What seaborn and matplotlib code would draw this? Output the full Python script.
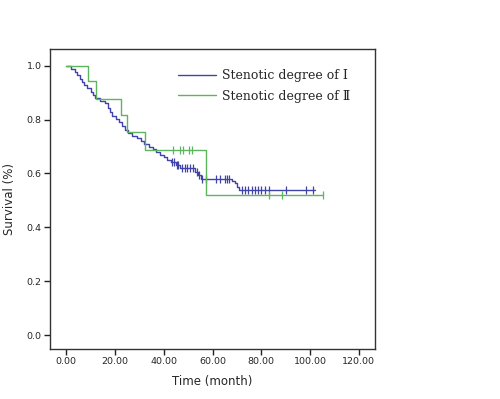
import matplotlib
matplotlib.use("Agg")
import matplotlib.pyplot as plt
import pandas as pd
import seaborn as sns

# Stenotic degree I: step times (month) and survival
grp1_time = [0, 2.0, 3.5, 4.5, 5.5, 6.5, 7.5, 8.5, 10.0, 11.0, 12.0, 14.0, 16.0, 17.0,
             18.0, 19.0, 20.5, 21.5, 23.0, 24.0, 25.5, 27.0, 29.0, 30.5, 32.0, 34.0,
             35.5, 37.0, 38.5, 40.0, 41.5, 43.0, 45.0, 46.5, 53.0, 54.2, 55.2, 67.9,
             69.3, 70.2, 71.0, 102.0]
grp1_surv = [1.0, 0.988, 0.976, 0.964, 0.952, 0.940, 0.928, 0.916, 0.904, 0.892, 0.880,
             0.870, 0.860, 0.845, 0.830, 0.815, 0.803, 0.790, 0.778, 0.762, 0.752, 0.740,
             0.730, 0.720, 0.710, 0.700, 0.690, 0.680, 0.670, 0.660, 0.650, 0.642, 0.633,
             0.621, 0.607, 0.594, 0.580, 0.572, 0.563, 0.551, 0.537, 0.537]
grp1_cens_time = [43.5, 44.2, 45.4, 46.0, 47.4, 48.8, 49.5, 50.8, 52.2, 53.5, 54.5, 55.6,
                  57.4, 61.5, 63.1, 65.2, 65.8, 66.8, 72.0, 73.4, 74.7, 76.1, 77.5, 78.8,
                  79.9, 81.6, 83.3, 90.2, 98.4, 101.1]
grp1_cens_surv = [0.642, 0.642, 0.633, 0.633, 0.621, 0.621, 0.621, 0.621, 0.621, 0.607,
                  0.594, 0.580, 0.580, 0.580, 0.580, 0.580, 0.580, 0.580, 0.537, 0.537,
                  0.537, 0.537, 0.537, 0.537, 0.537, 0.537, 0.537, 0.537, 0.537, 0.537]

# Stenotic degree II
grp2_time = [0, 9.0, 12.3, 22.4, 25.0, 32.4, 57.2, 105.2]
grp2_surv = [1.0, 0.942, 0.878, 0.818, 0.753, 0.689, 0.519, 0.519]
grp2_cens_time = [43.7, 46.7, 48.0, 50.4, 51.5, 83.3, 88.4, 105.2]
grp2_cens_surv = [0.689, 0.689, 0.689, 0.689, 0.689, 0.519, 0.519, 0.519]

labels = ["Stenotic degree of \u2160", "Stenotic degree of \u2161"]
colors = ["#4044a8", "#5db55e"]

sns.set_style("white")
plt.rcParams["font.family"] = ["DejaVu Sans"]

fig = plt.figure(figsize=(5.0, 3.99), dpi=100)
ax = fig.add_axes([0.10, 0.1253, 0.65, 0.7517])

curves = [(grp1_time, grp1_surv, grp1_cens_time, grp1_cens_surv),
          (grp2_time, grp2_surv, grp2_cens_time, grp2_cens_surv)]
for (t, s, ct, cs), lab, col in zip(curves, labels, colors):
    sns.lineplot(x=t, y=s, drawstyle="steps-post", color=col, linewidth=1.0,
                 label=lab, ax=ax, estimator=None, sort=False)
    sns.scatterplot(x=ct, y=cs, marker="|", s=28, color=col, linewidth=0.9, ax=ax)

ax.set_xlim(-6.6, 126.6)
ax.set_ylim(-0.052, 1.062)
ax.set_xticks([0, 20, 40, 60, 80, 100, 120])
ax.set_xticklabels([f"{v:.2f}" for v in [0, 20, 40, 60, 80, 100, 120]])
ax.set_yticks([0, 0.2, 0.4, 0.6, 0.8, 1.0])
ax.set_yticklabels([f"{v:.1f}" for v in [0, 0.2, 0.4, 0.6, 0.8, 1.0]])
ax.tick_params(axis="both", direction="out", length=4, width=1, labelsize=6.8,
               bottom=True, left=True, color="#222222", pad=2)
for sp in ax.spines.values():
    sp.set_color("#333333")
    sp.set_linewidth(1.0)

ax.set_xlabel("Time (month)", fontsize=8.5, labelpad=6)
ax.set_ylabel("Survival (%)", fontsize=8.5, labelpad=8)

leg = ax.legend(loc="upper left", bbox_to_anchor=(0.36, 0.97), frameon=False,
                handlelength=3.0, handletextpad=0.5, labelspacing=0.6,
                prop={"family": ["DejaVu Serif", "Noto Sans CJK SC"], "size": 9})

fig.savefig("out.png", dpi=100)
